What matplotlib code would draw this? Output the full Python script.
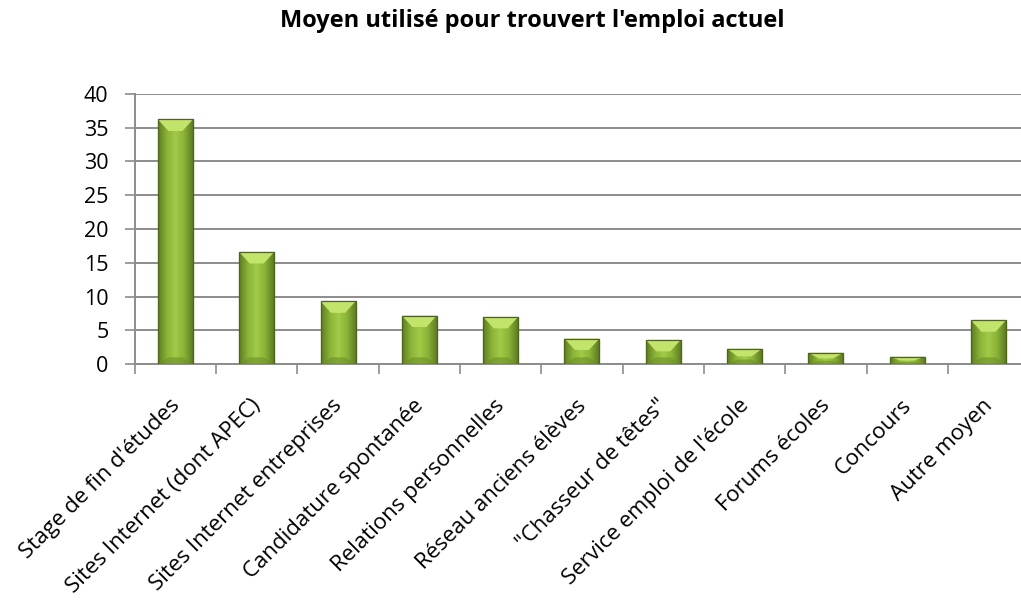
import numpy as np
import matplotlib.pyplot as plt
from matplotlib.colors import LinearSegmentedColormap
from matplotlib.patches import Polygon

categories = ["Stage de fin d'études", "Sites Internet (dont APEC)",
              "Sites Internet entreprises", "Candidature spontanée",
              "Relations personnelles", "Réseau anciens élèves",
              "\"Chasseur de têtes\"", "Service emploi de l'école",
              "Forums écoles", "Concours", "Autre moyen"]
values = [36.2, 16.6, 9.3, 7.2, 7.0, 3.8, 3.6, 2.3, 1.7, 1.1, 6.5]
yticks = [0, 5, 10, 15, 20, 25, 30, 35, 40]

plt.rcParams['font.family'] = ['Open Sans', 'DejaVu Sans']

fig = plt.figure(figsize=(10.21, 6.05), dpi=100)
ax = fig.add_axes([0.132, 0.398, 0.876, 0.447])

x = np.arange(len(categories))
bw = 0.43
bars = ax.bar(x, values, width=bw, color="#8fb83c", edgecolor="#56701c",
              linewidth=0.8, zorder=3)

# dégradé horizontal + biseau pour imiter le style Excel
cmap = LinearSegmentedColormap.from_list(
    "bev", ["#5f7d22", "#8ab338", "#a2cb48", "#8ab338", "#5f7d22"])
grad = np.linspace(0, 1, 64).reshape(1, -1)
for b in bars:
    x0, w, h = b.get_x(), b.get_width(), b.get_height()
    im = ax.imshow(grad, cmap=cmap, aspect="auto",
                   extent=[x0, x0 + w, 0, h], zorder=3.1)
    im.set_clip_path(b)
    bh = min(1.7, h / 2)
    bx = w * 0.3
    top = Polygon([(x0, h), (x0 + w, h), (x0 + w - bx, h - bh), (x0 + bx, h - bh)],
                  closed=True, facecolor="#c3e46a", edgecolor="none", zorder=3.2)
    ax.add_patch(top)
    bot = Polygon([(x0, 0), (x0 + w, 0), (x0 + w - bx, bh * 0.6), (x0 + bx, bh * 0.6)],
                  closed=True, facecolor="#6e8f2a", edgecolor="none", alpha=0.6, zorder=3.2)
    ax.add_patch(bot)
    ax.add_patch(plt.Rectangle((x0, 0), w, h, fill=False, edgecolor="#4f661a",
                               linewidth=0.9, zorder=3.3))

ax.set_xlim(-0.5, len(categories) - 0.5)
ax.set_ylim(0, 40)
ax.set_yticks(yticks)
ax.tick_params(axis="y", labelsize=15.5, length=7, color="#8c8c8c", width=1.2, pad=12)
ax.yaxis.grid(True, color="#8c8c8c", linewidth=1.4, zorder=0)
ax.set_axisbelow(True)

ax.set_xticks(np.arange(len(categories) + 1) - 0.5)
ax.set_xticklabels([])
ax.tick_params(axis="x", length=7, color="#8c8c8c", width=1.2)
for i, c in enumerate(categories):
    ax.text(i - 0.08, -4.6, c, rotation=45, ha="right", va="top",
            rotation_mode="anchor", fontsize=16, clip_on=False)

for s in ["top", "right"]:
    ax.spines[s].set_visible(False)
for s in ["left", "bottom"]:
    ax.spines[s].set_color("#8c8c8c")
    ax.spines[s].set_linewidth(1.4)

fig.text(0.521, 0.965, "Moyen utilisé pour trouvert l'emploi actuel",
         ha="center", va="center", fontsize=17, weight="bold")

fig.savefig("out.png", dpi=100)
